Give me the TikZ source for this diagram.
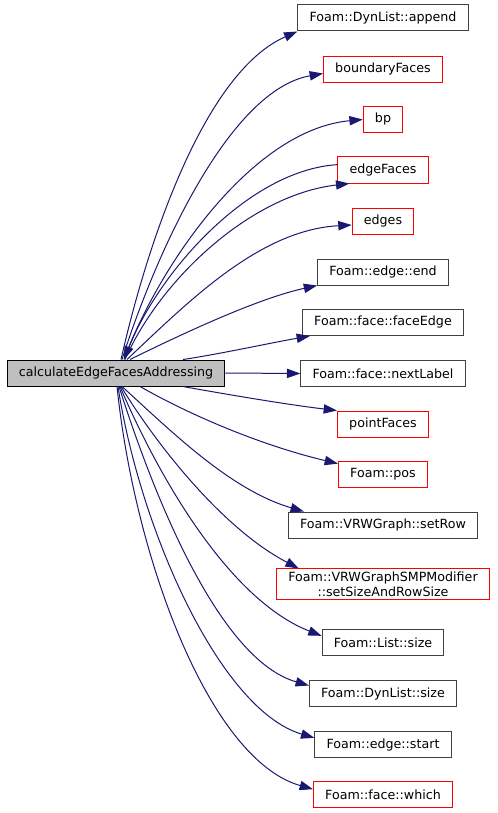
\documentclass[tikz,border=0pt]{standalone}
\usepackage{fontspec}
\setmainfont{DejaVu Sans}
\usetikzlibrary{arrows.meta}

\definecolor{edgeblue}{HTML}{191970}
\definecolor{boxgray}{HTML}{404040}
\definecolor{callgray}{HTML}{BFBFBF}

\begin{document}
\begin{tikzpicture}[
  x=0.75pt, y=-0.75pt,
  font=\fontsize{9.5}{11.25}\selectfont,
  box/.style={draw, line width=0.75pt, minimum height=19.5pt, inner xsep=8.8pt, inner ysep=2pt, align=center},
  blackbox/.style={box, draw=boxgray},
  redbox/.style={box, draw=red},
  callerbox/.style={box, draw=black, fill=callgray},
  arr/.style={-{Triangle[length=10pt,width=7pt]}, edgeblue, line width=0.75pt},
]

\useasboundingbox (0,0) rectangle (497,813);

% ====== CALLER ======
\node[callerbox] (calc) at (116,373) {calculateEdgeFacesAddressing};

% ====== CALLEES ======
\node[blackbox] (append)  at (383,18)    {Foam::DynList::append};
\node[redbox]   (bfaces)  at (383,69.5)  {boundaryFaces};
\node[redbox]   (bp)      at (383,119.5) {bp};
\node[redbox]   (efaces)  at (383,170)   {edgeFaces};
\node[redbox]   (edges)   at (383,221)   {edges};
\node[blackbox] (eend)    at (383,272)   {Foam::edge::end};
\node[blackbox] (fedge)   at (383,322.5) {Foam::face::faceEdge};
\node[blackbox] (nlabel)  at (383,373.5) {Foam::face::nextLabel};
\node[redbox]   (pfaces)  at (383,424)   {pointFaces};
\node[redbox]   (pos)     at (383,474.5) {Foam::pos};
\node[blackbox] (setrow)  at (383,525)   {Foam::VRWGraph::setRow};
\node[redbox]   (setsize) at (383,584)   {Foam::VRWGraphSMPModifier\\::setSizeAndRowSize};
\node[blackbox] (lsize)   at (383,642.5) {Foam::List::size};
\node[blackbox] (dsize)   at (383,693.5) {Foam::DynList::size};
\node[blackbox] (estart)  at (383,744.5) {Foam::edge::start};
\node[redbox]   (which)   at (383,794.5) {Foam::face::which};

% Upper calls (leave from the top)
\draw[arr] ([xshift=3.75pt]calc.north) .. controls (148,240) and (205,72) .. (append.south west);
\draw[arr] ([xshift=4.5pt]calc.north) .. controls (157,250) and (230,90) .. ([yshift=-3pt]bfaces.west);
\draw[arr] ([xshift=6pt]calc.north) .. controls (157,270) and (250,130) .. (bp.west);
\draw[arr] ([xshift=6.75pt]calc.north) .. controls (160,280) and (250,195) .. ([xshift=9pt]efaces.south west);
\draw[arr] ([yshift=4pt]efaces.west) .. controls (250,170) and (160,270) .. ([xshift=6pt]calc.north);
\draw[arr] ([xshift=8.25pt]calc.north) .. controls (190,300) and (260,230) .. ([yshift=-3pt]edges.west);
\draw[arr] ([xshift=10.5pt]calc.north) .. controls (190,330) and (260,298) .. (eend.south west);
\draw[arr] ([xshift=50.25pt]calc.north) .. controls (220,354) and (270,343) .. ([xshift=6pt]fedge.south west);

% Straight call
\draw[arr] (calc.east) -- (nlabel.west);

% Lower calls (leave from the bottom)
\draw[arr] ([xshift=50.25pt]calc.south) .. controls (230,395) and (290,405) .. (pfaces.north west);
\draw[arr] ([xshift=18pt]calc.south) .. controls (190,415) and (260,445) .. ([yshift=-2pt]pos.north west);
\draw[arr] ([xshift=4.5pt]calc.south) .. controls (170,430) and (230,490) .. ([xshift=12pt]setrow.north west);
\draw[arr] ([xshift=3.75pt]calc.south) .. controls (160,450) and (225,530) .. ([xshift=17pt]setsize.north west);
\draw[arr] ([xshift=3pt]calc.south) .. controls (160,480) and (230,600) .. ([yshift=5pt]lsize.west);
\draw[arr] ([xshift=2.25pt]calc.south) .. controls (155,500) and (220,660) .. ([yshift=6pt]dsize.west);
\draw[arr] ([xshift=1.5pt]calc.south) .. controls (140,530) and (220,710) .. ([yshift=5pt]estart.west);
\draw[arr] ([xshift=0.75pt]calc.south) .. controls (135,560) and (210,760) .. ([yshift=4pt]which.west);

\end{tikzpicture}
\end{document}
